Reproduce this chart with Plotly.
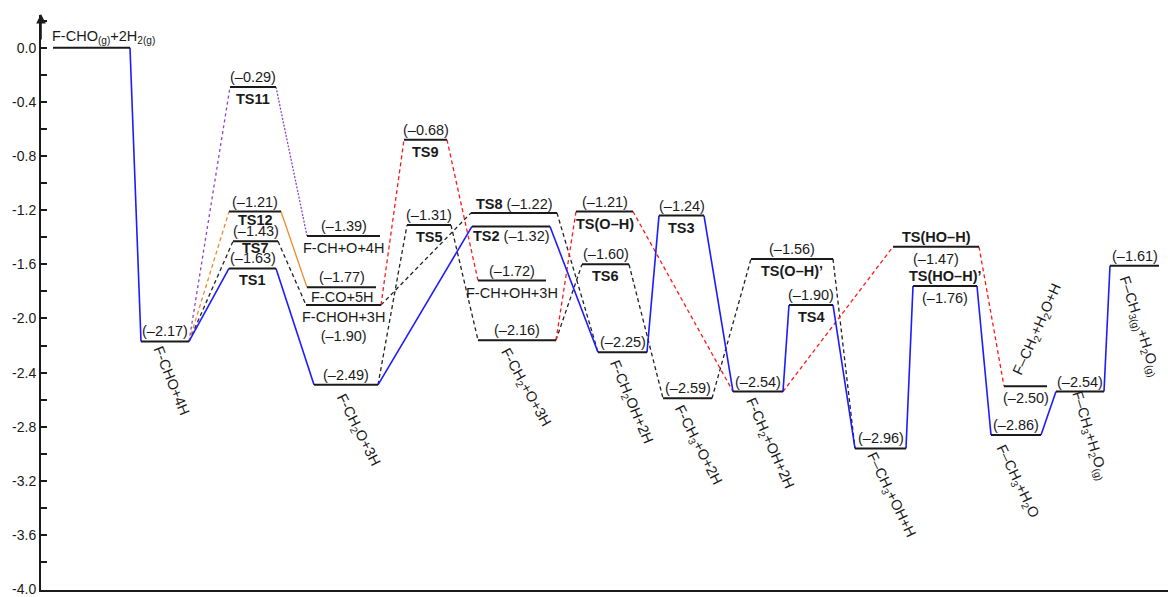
import plotly.graph_objects as go

# ---- energy levels (eV) ----
states = [
    "F-CHO(g)+2H2(g)", "F-CHO+4H", "TS11", "TS12", "TS7", "TS1",
    "F-CH+O+4H", "F-CO+5H", "F-CHOH+3H", "F-CH2O+3H", "TS9", "TS5",
    "TS8", "TS2", "F-CH+OH+3H", "F-CH2+O+3H", "TS(O-H)", "TS6",
    "F-CH2OH+2H", "TS3", "F-CH3+O+2H", "F-CH2+OH+2H", "TS(O-H)'", "TS4",
    "F-CH3+OH+H", "TS(HO-H)", "TS(HO-H)'", "F-CH2+H2O+H", "F-CH3+H2O",
    "F-CH3+H2O(g)", "F-CH3(g)+H2O(g)",
]
energies = [
    0.00, -2.17, -0.29, -1.21, -1.43, -1.63,
    -1.39, -1.77, -1.90, -2.49, -0.68, -1.31,
    -1.22, -1.32, -1.72, -2.16, -1.21, -1.60,
    -2.25, -1.24, -2.59, -2.54, -1.56, -1.90,
    -2.96, -1.47, -1.76, -2.50, -2.86,
    -2.54, -1.61,
]

# horizontal extent of each level along the reaction coordinate
x_start = [53, 141, 230, 229, 233, 229, 307, 307, 306, 314, 404, 407,
           471, 472, 478, 478, 576, 582, 598, 659, 663, 733, 751, 789,
           855, 893, 913, 1004, 991, 1056, 1110]
x_end = [130, 189, 276, 281, 278, 276, 380, 376, 381, 378, 447, 451,
         557, 550, 546, 556, 633, 629, 647, 704, 712, 783, 833, 833,
         906, 979, 977, 1047, 1041, 1104, 1159]

# y-axis labelled ticks
tick_vals = [0.0, -0.4, -0.8, -1.2, -1.6, -2.0, -2.4, -2.8, -3.2, -3.6, -4.0]
tick_text = ["0.0", "-0.4", "-0.8", "-1.2", "-1.6", "-2.0", "-2.4", "-2.8",
             "-3.2", "-3.6", "-4.0"]

E = dict(zip(states, energies))
X0 = dict(zip(states, x_start))
X1 = dict(zip(states, x_end))

# ---- pathways between levels ----
blue_path = [
    ("F-CHO(g)+2H2(g)", "F-CHO+4H"), ("F-CHO+4H", "TS1"), ("TS1", "F-CH2O+3H"),
    ("F-CH2O+3H", "TS2"), ("TS2", "F-CH2OH+2H"), ("F-CH2OH+2H", "TS3"),
    ("TS3", "F-CH2+OH+2H"), ("F-CH2+OH+2H", "TS4"), ("TS4", "F-CH3+OH+H"),
    ("F-CH3+OH+H", "TS(HO-H)'"), ("TS(HO-H)'", "F-CH3+H2O"),
    ("F-CH3+H2O", "F-CH3+H2O(g)"), ("F-CH3+H2O(g)", "F-CH3(g)+H2O(g)"),
]
black_path = [
    ("F-CHO+4H", "TS7"), ("TS7", "F-CHOH+3H"), ("F-CHOH+3H", "TS8"),
    ("TS8", "F-CH2OH+2H"), ("F-CH2O+3H", "TS5"), ("TS5", "F-CH2+O+3H"),
    ("F-CH2+O+3H", "TS6"), ("TS6", "F-CH3+O+2H"), ("F-CH3+O+2H", "TS(O-H)'"),
    ("TS(O-H)'", "F-CH3+OH+H"),
]
red_path = [
    ("F-CHOH+3H", "TS9"), ("TS9", "F-CH+OH+3H"), ("F-CH2+O+3H", "TS(O-H)"),
    ("TS(O-H)", "F-CH2+OH+2H"), ("F-CH2+OH+2H", "TS(HO-H)"),
    ("TS(HO-H)", "F-CH2+H2O+H"),
]
purple_path = [("F-CHO+4H", "TS11"), ("TS11", "F-CH+O+4H")]
orange_path = [("F-CHO+4H", "TS12"), ("TS12", "F-CO+5H")]

styles = {
    "blue": dict(color="#1c1cff", width=1.6, dash="solid"),
    "black": dict(color="#222222", width=1.3, dash="4px,3px"),
    "red": dict(color="#ff1a1a", width=1.3, dash="4px,3px"),
    "purple_a": dict(color="#8a45d0", width=1.3, dash="3px,3px"),
    "purple_b": dict(color="#8a45d0", width=1.3, dash="2px,1.5px"),
    "orange_a": dict(color="#f08a2a", width=1.3, dash="4px,3px"),
    "orange_b": dict(color="#f08a2a", width=1.3, dash="solid"),
}

fig = go.Figure()


def connect(a, b, style):
    fig.add_trace(go.Scatter(
        x=[X1[a], X0[b]], y=[E[a], E[b]], mode="lines",
        line=styles[style], hoverinfo="skip", showlegend=False))


for a, b in black_path:
    connect(a, b, "black")
for a, b in red_path:
    connect(a, b, "red")
connect(*purple_path[0], "purple_a")
connect(*purple_path[1], "purple_b")
connect(*orange_path[0], "orange_a")
connect(*orange_path[1], "orange_b")
for a, b in blue_path:
    connect(a, b, "blue")

# horizontal level bars
for s in states:
    fig.add_trace(go.Scatter(
        x=[X0[s], X1[s]], y=[E[s], E[s]], mode="lines",
        line=dict(color="#1a1a1a", width=2), hoverinfo="skip", showlegend=False))

# ---- labels ----
FONT = "Liberation Sans, Arial, sans-serif"
FS = 14.5
TXT = "#1a1a1a"


def val(s):
    e = E[s]
    return f"(–{abs(e):.2f})" if e < 0 else f"({e:.2f})"


def note(s, text, where, size=FS, dx=0, dy=0, angle=0, anchor="center", x=None):
    cx = (X0[s] + X1[s]) / 2 if x is None else x
    if where == "above":
        ya, ys = "bottom", 1 + dy
    elif where == "below":
        ya, ys = "top", -3 + dy
    else:
        ya, ys = "middle", dy
    fig.add_annotation(
        x=cx, y=E[s], xref="x", yref="y", text=text, showarrow=False,
        xanchor=anchor, yanchor=ya, xshift=dx, yshift=ys, textangle=angle,
        font=dict(family=FONT, size=size, color=TXT), borderpad=0)


# initial gas-phase state
note("F-CHO(g)+2H2(g)", "F-CHO<sub>(g)</sub>+2H<sub>2(g)</sub>", "above",
     anchor="left", x=X0["F-CHO(g)+2H2(g)"] - 2)

# transition states: value above, bold name below (tighter in the crowded stack)
name_lift = {"TS12": 4, "TS7": 5}
for s, shown in [("TS11", "TS11"), ("TS12", "TS12"), ("TS7", "TS7"), ("TS1", "TS1"),
                 ("TS9", "TS9"), ("TS5", "TS5"), ("TS(O-H)", "TS(O–H)"),
                 ("TS6", "TS6"), ("TS3", "TS3"), ("TS(O-H)'", "TS(O–H)’"),
                 ("TS4", "TS4")]:
    note(s, val(s), "above")
    note(s, f"<b>{shown}</b>", "below", dy=name_lift.get(s, 0))

note("TS8", f"<b>TS8</b> {val('TS8')}", "above", dy=-1)
note("TS2", f"<b>TS2</b> {val('TS2')}", "below", dy=2)

for s, shown in [("TS(HO-H)", "TS(HO–H)"), ("TS(HO-H)'", "TS(HO–H)’")]:
    note(s, f"<b>{shown}</b>", "above")
    note(s, val(s), "below")

# intermediates with horizontal names
for s, shown in [("F-CH+O+4H", "F-CH+O+4H"), ("F-CO+5H", "F-CO+5H"),
                 ("F-CH+OH+3H", "F-CH+OH+3H")]:
    note(s, val(s), "above")
    note(s, shown, "below", dy=(2 if s == "F-CO+5H" else 0))

note("F-CHOH+3H", f"F-CHOH+3H<br>{val('F-CHOH+3H')}", "below")

# intermediates with slanted names (angle, x offset, y offset in px)
slanted = [
    ("F-CHO+4H", "F-CHO+4H", 68, 6, -39),
    ("F-CH2O+3H", "F-CH<sub>2</sub>O+3H", 63, 12, -45),
    ("F-CH2+O+3H", "F-CH<sub>2</sub>+O+3H", 61, 8, -47),
    ("F-CH2OH+2H", "F-CH<sub>2</sub>OH+2H", 67, 8, -50),
    ("F-CH3+O+2H", "F-CH<sub>3</sub>+O+2H", 63, 10, -47),
    ("F-CH2+OH+2H", "F-CH<sub>2</sub>+OH+2H", 66, 12, -52),
    ("F-CH3+OH+H", "F–CH<sub>3</sub>+OH+H", 64, 10, -47),
    ("F-CH3+H2O", "F–CH<sub>3</sub>+H<sub>2</sub>O", 64, 1, -46),
    ("F-CH3+H2O(g)", "F–CH<sub>3</sub>+H<sub>2</sub>O<sub>(g)</sub>", 73, 10, -44),
    ("F-CH3(g)+H2O(g)", "F–CH<sub>3(g)</sub>+H<sub>2</sub>O<sub>(g)</sub>", 72, 5, -60),
]
for s, shown, ang, dx, dy in slanted:
    note(s, val(s), "above")
    note(s, shown, "mid", dx=dx, dy=dy, angle=ang)

note("F-CH2+H2O+H", val("F-CH2+H2O+H"), "below")
note("F-CH2+H2O+H", "F–CH<sub>2</sub>+H<sub>2</sub>O+H", "mid", dx=12, dy=56, angle=-66)

# arrow head on the energy axis
fig.add_annotation(x=41, y=0.25, ax=41, ay=0.05, xref="x", yref="y",
                   axref="x", ayref="y", showarrow=True, arrowhead=2,
                   arrowsize=1.2, arrowwidth=1.6, arrowcolor="#1a1a1a", text="")

fig.update_layout(
    width=1168, height=597,
    margin=dict(l=41, r=0, t=15, b=4),
    paper_bgcolor="white", plot_bgcolor="white",
    showlegend=False,
    xaxis=dict(range=[41, 1168], showline=True, linecolor="#1a1a1a", linewidth=2,
               showgrid=False, zeroline=False, showticklabels=False, ticks=""),
    yaxis=dict(range=[-4.006, 0.2422], showline=True, linecolor="#1a1a1a", linewidth=2,
               showgrid=False, zeroline=False, ticks="inside", ticklen=6,
               tickwidth=1.5, tickcolor="#1a1a1a", tickvals=tick_vals,
               ticktext=tick_text, ticklabeloverflow="allow",
               minor=dict(dtick=0.2, tick0=0, ticks="inside", ticklen=6,
                          tickwidth=1.5, tickcolor="#1a1a1a", showgrid=False),
               tickfont=dict(family=FONT, size=14, color=TXT)),
)

fig.write_html("out.html")
